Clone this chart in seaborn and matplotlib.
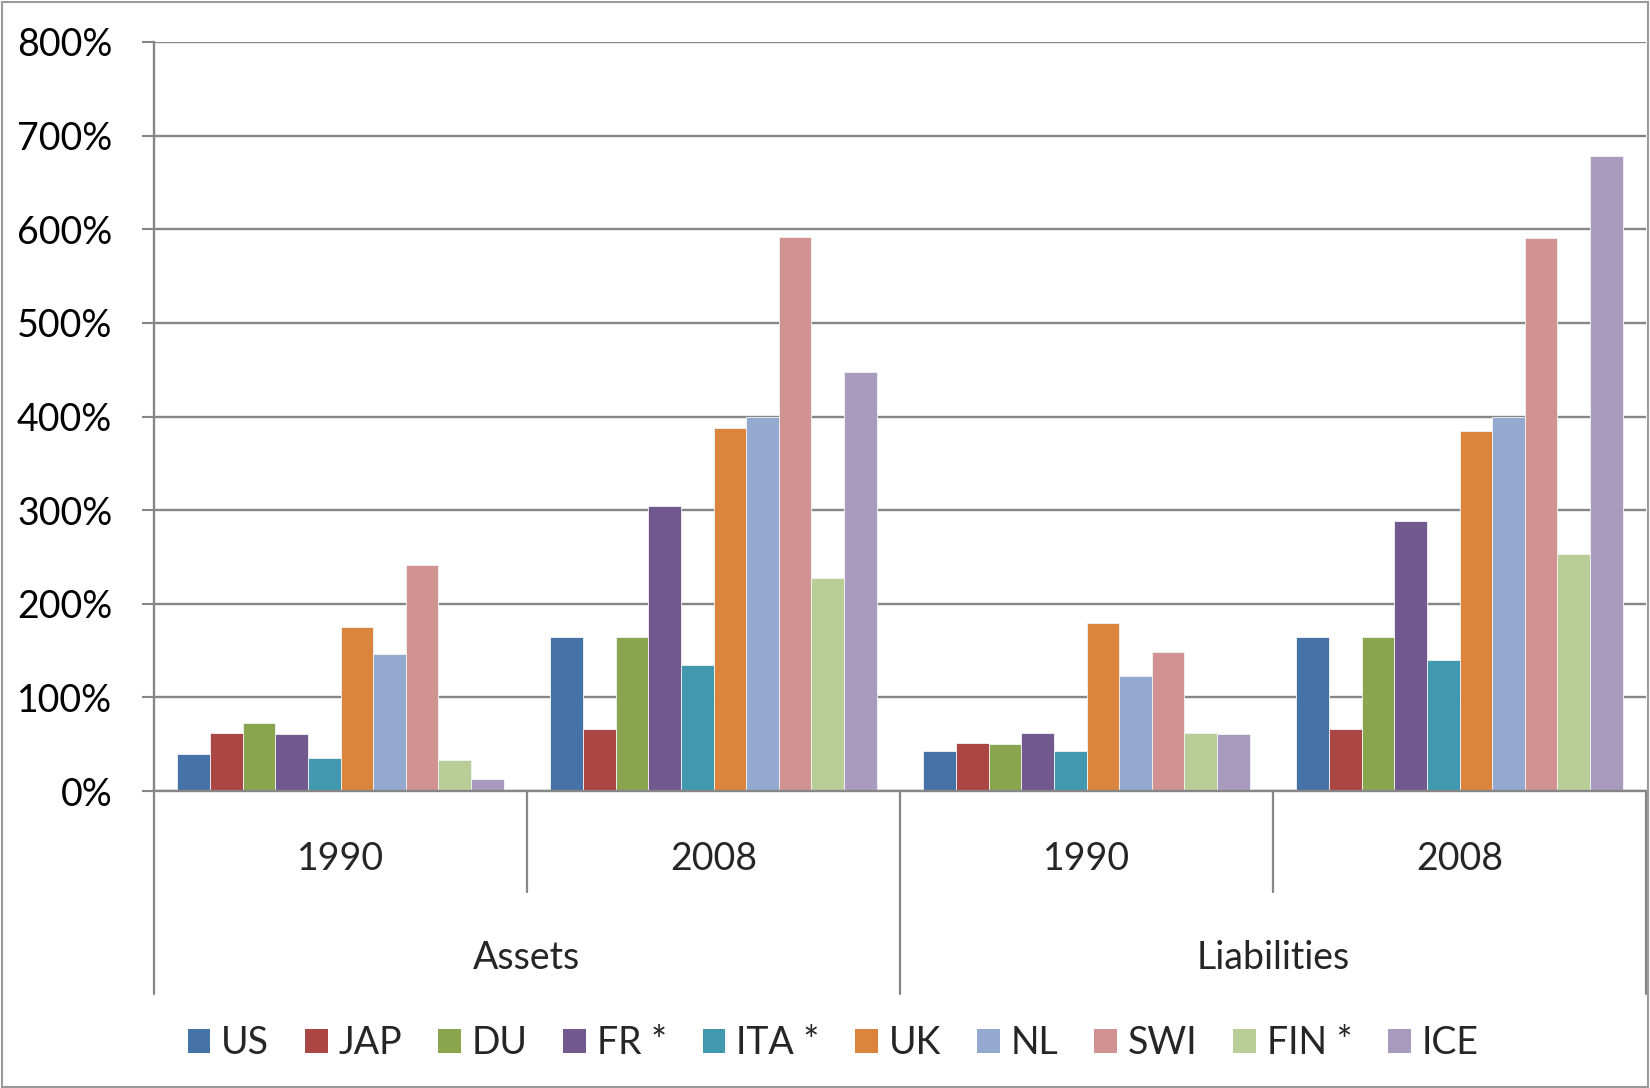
import matplotlib
matplotlib.use("Agg")
import matplotlib.pyplot as plt
import matplotlib.transforms as mtransforms
from matplotlib.patches import Patch, Rectangle
import seaborn as sns
import pandas as pd

# Foreign assets and liabilities as a share of GDP (%)
countries = ["US", "JAP", "DU", "FR *", "ITA *", "UK", "NL", "SWI", "FIN *", "ICE"]
groups = ["Assets 1990", "Assets 2008", "Liabilities 1990", "Liabilities 2008"]
years = ["1990", "2008", "1990", "2008"]
sides = ["Assets", "Liabilities"]
assets_1990 = [40, 62, 73, 61, 35, 175, 146, 241, 33, 13]
assets_2008 = [165, 66, 165, 304, 135, 388, 400, 592, 227, 447]
liab_1990 = [43, 51, 50, 62, 43, 179, 123, 148, 62, 61]
liab_2008 = [164, 66, 164, 288, 140, 384, 400, 591, 253, 678]
y_ticks = [0, 100, 200, 300, 400, 500, 600, 700, 800]

colors = ["#4572A7", "#AA4643", "#89A54E", "#71588F", "#4198AF",
          "#DB843D", "#93A9CF", "#D19392", "#B9CD96", "#A99BBD"]

series = [assets_1990, assets_2008, liab_1990, liab_2008]
rows = []
for g, vals in zip(groups, series):
    for c, v in zip(countries, vals):
        rows.append({"group": g, "country": c, "value": v})
df = pd.DataFrame(rows)

sns.set_theme(style="white")
plt.rcParams["font.family"] = ["Lato", "DejaVu Sans"]

W, H = 1650, 1088
fig = plt.figure(figsize=(W / 100, H / 100), dpi=100)
x0, x1, y0, y1 = 154, 1646, 791, 42
ax = fig.add_axes([x0 / W, 1 - y0 / H, (x1 - x0) / W, (y0 - y1) / H])

sns.barplot(data=df, x="group", y="value", hue="country", order=groups,
            hue_order=countries, palette=colors, saturation=1, width=0.874,
            edgecolor="#f4f4f4", linewidth=0.6, legend=False, ax=ax)

grey = "#868686"
ax.set_ylim(0, 800)
ax.set_xlim(-0.5, 3.5)
ax.set_yticks(y_ticks)
ax.set_yticklabels([f"{t}%" for t in y_ticks], fontsize=27, color="black")
ax.set_xticks([])
ax.set_xlabel("")
ax.set_ylabel("")
ax.yaxis.grid(True, color=grey, linewidth=1.7)
ax.set_axisbelow(True)
ax.tick_params(axis="y", which="both", left=True, length=9, width=1.5,
               color=grey, pad=21, direction="out")
for s in ["top", "right"]:
    ax.spines[s].set_visible(False)
for s in ["left", "bottom"]:
    ax.spines[s].set_color(grey)
    ax.spines[s].set_linewidth(1.7)

# Two-level category axis below the bars
trans = mtransforms.blended_transform_factory(ax.transData, ax.transAxes)
short_y = (y0 - 892) / (y0 - y1)
long_y = (y0 - 994) / (y0 - y1)
for xb in [-0.5, 1.5, 3.5]:
    ax.plot([xb, xb], [0, long_y], transform=trans, color=grey, lw=1.6, clip_on=False)
for xb in [0.5, 2.5]:
    ax.plot([xb, xb], [0, short_y], transform=trans, color=grey, lw=1.6, clip_on=False)
year_y = (y0 - 859) / (y0 - y1)
side_y = (y0 - 958) / (y0 - y1)
for i, yr in enumerate(years):
    ax.text(i, year_y, yr, transform=trans, ha="center", va="center", fontsize=27)
for i, sd in enumerate(sides):
    ax.text(2 * i + 0.5, side_y, sd, transform=trans, ha="center", va="center", fontsize=27)

handles = [Patch(facecolor=c, edgecolor="none", label=n) for c, n in zip(colors, countries)]
fig.legend(handles=handles, loc="center", bbox_to_anchor=(0.505, 1 - 1043 / H), ncol=10,
           frameon=False, fontsize=27, handlelength=0.6, handleheight=0.6,
           handletextpad=0.3, columnspacing=0.95)

# Outer chart border
fig.add_artist(Rectangle((2 / W, 1 / H), (W - 4) / W, (H - 3) / H, transform=fig.transFigure,
                         fill=False, edgecolor="#9a9a9a", linewidth=1.5))

fig.savefig("out.png", dpi=100)
